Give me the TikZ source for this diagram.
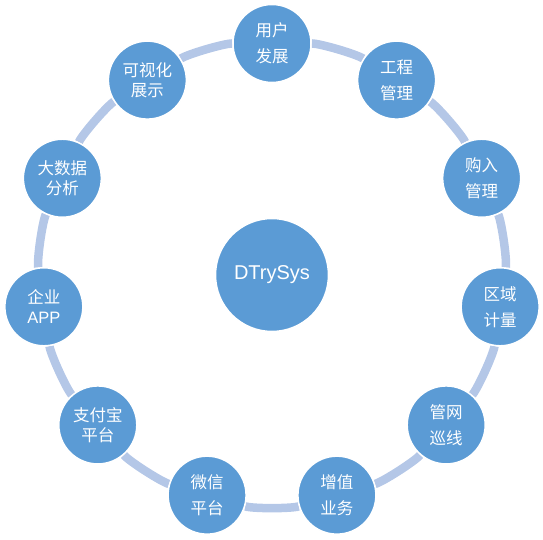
\documentclass[tikz,border=0pt]{standalone}
\usepackage{fontspec}
\setmainfont{Liberation Sans}
\newfontfamily\cjk{Noto Sans CJK SC}
\definecolor{dtblue}{RGB}{91,155,213}
\definecolor{dtring}{RGB}{180,199,231}
\usetikzlibrary{backgrounds}

\begin{document}
\begin{tikzpicture}[x=1pt,y=1pt,
  item/.style={circle,draw=white,line width=1.5pt,fill=dtblue,minimum size=78pt,inner sep=0pt,text=white,align=center,font=\cjk\fontsize{16.5}{26}\selectfont},
  itemtight/.style={item,font=\cjk\fontsize{16.5}{20}\selectfont},
  ring/.style={dtring,line width=8.5pt,bend left=16.4,looseness=0.4}]
  \useasboundingbox (-272,-266) rectangle (271,274);
  \node[circle,draw=white,line width=1.5pt,fill=dtblue,minimum size=113pt,text=white,font=\fontsize{20}{24}\selectfont] (hub) at (0,-1) {DTrySys};
  \node[item] (yonghu) at (90:230.5) {用户\\发展};
  \node[item] (gongcheng) at (57.27:230.5) {工程\\管理};
  \node[item] (gouru) at (24.55:230.5) {购入\\管理};
  \node[item] (quyu) at (-8.18:230.5) {区域\\计量};
  \node[item] (guanwang) at (-40.91:230.5) {管网\\巡线};
  \node[item] (zengzhi) at (-73.64:230.5) {增值\\业务};
  \node[item] (weixin) at (-106.36:230.5) {微信\\平台};
  \node[itemtight] (zhifubao) at (-139.09:230.5) {支付宝\\平台};
  \node[itemtight] (qiye) at (-171.82:230.5) {企业\\{\rmfamily APP}};
  \node[itemtight] (dashuju) at (155.45:230.5) {大数据\\分析};
  \node[itemtight] (keshihua) at (122.73:230.5) {可视化\\展示};
  % ring between the outer nodes
  \begin{scope}[on background layer]
    \draw[ring] (yonghu) to (gongcheng);
    \draw[ring] (gongcheng) to (gouru);
    \draw[ring] (gouru) to (quyu);
    \draw[ring] (quyu) to (guanwang);
    \draw[ring] (guanwang) to (zengzhi);
    \draw[ring] (zengzhi) to (weixin);
    \draw[ring] (weixin) to (zhifubao);
    \draw[ring] (zhifubao) to (qiye);
    \draw[ring] (qiye) to (dashuju);
    \draw[ring] (dashuju) to (keshihua);
    \draw[ring] (keshihua) to (yonghu);
  \end{scope}
\end{tikzpicture}
\end{document}
